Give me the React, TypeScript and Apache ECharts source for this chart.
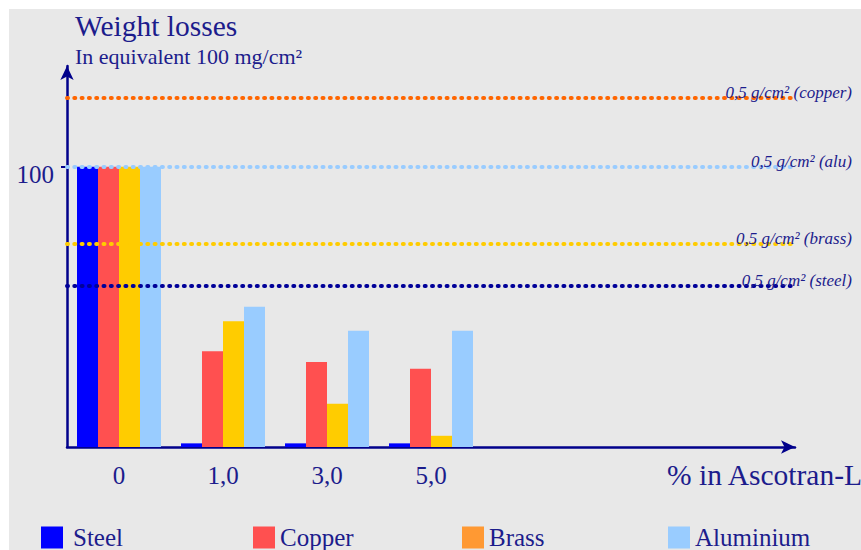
import React, { useEffect, useRef } from "react";
import * as echarts from "echarts";

const categories = ["0", "1,0", "3,0", "5,0", "", "", ""];
const steel = [100, 1.3, 1.3, 1.3];
const copper = [100, 34.2, 30.3, 27.9];
const brass = [100, 44.9, 15.4, 4.0];
const aluminium = [100, 50.1, 41.5, 41.5];
const refValues = { copper: 124.5, alu: 100, brass: 72.5, steel: 57.5 };
const refLabels = {
  copper: "0,5 g/cm² (copper)",
  alu: "0,5 g/cm² (alu)",
  brass: "0,5 g/cm² (brass)",
  steel: "0,5 g/cm² (steel)",
};
const yTicks = [100];

const NAVY = "#1c1c8c";
const AXIS = "#00008b";
const SERIF = '"Liberation Serif", "DejaVu Serif", serif';

export default function App() {
  const ref = useRef<HTMLDivElement>(null);
  useEffect(() => {
    const chart = echarts.init(ref.current!, null, { renderer: "svg" });
    const mk = (value: number, label: string, color: string) => ({
      silent: true,
      symbol: "none",
      data: [{ yAxis: value }],
      lineStyle: { color, width: 4, type: [1, 6.3], cap: "round" },
      label: {
        show: true,
        formatter: label,
        position: "insideEndTop",
        offset: [62, 8],
        fontFamily: SERIF,
        fontStyle: "italic",
        fontSize: 17,
        color: NAVY,
      },
    });
    const barBase = { type: "bar", barWidth: 21, barGap: "0%" };
    chart.setOption({
      animation: false,
      backgroundColor: "#ffffff",
      graphic: [
        {
          type: "rect",
          z: -100,
          shape: { x: 9, y: 9, width: 900, height: 600 },
          style: { fill: "#e8e8e8" },
        },
      ],
      title: [
        {
          text: "Weight losses",
          left: 75,
          top: 11,
          padding: 0,
          textStyle: { fontFamily: SERIF, fontSize: 29.5, fontWeight: "normal", color: NAVY },
        },
        {
          text: "In equivalent 100 mg/cm²",
          left: 75,
          top: 45,
          padding: 0,
          textStyle: { fontFamily: SERIF, fontSize: 22, fontWeight: "normal", color: NAVY },
        },
        {
          text: "% in Ascotran-L",
          left: 667,
          top: 460,
          padding: 0,
          textStyle: { fontFamily: SERIF, fontSize: 29.5, fontWeight: "normal", color: NAVY },
        },
      ],
      legend: [
        { name: "Steel", left: 41, color: null, pad: 5 },
        { name: "Copper", left: 253, color: null, pad: 0 },
        { name: "Brass", left: 462, color: "#ff9933", pad: 0 },
        { name: "Aluminium", left: 668, color: null, pad: 0 },
      ].map((l) => ({
        left: l.left,
        top: 525,
        padding: 0,
        selectedMode: false,
        icon: "rect",
        itemWidth: 22,
        itemHeight: 22,
        data: [l.color ? { name: l.name, itemStyle: { color: l.color } } : { name: l.name }],
        textStyle: { fontFamily: SERIF, fontSize: 25, color: NAVY, padding: [0, 0, 0, l.pad] },
      })),
      grid: { left: 67, right: 66, top: 66, bottom: 103 },
      xAxis: {
        type: "category",
        data: categories,
        axisLine: {
          lineStyle: { color: AXIS, width: 2.5 },
          symbol: ["none", "arrow"],
          symbolSize: [10, 14],
        },
        axisTick: { show: false },
        axisLabel: { fontFamily: SERIF, fontSize: 25, color: NAVY, margin: 16 },
      },
      yAxis: {
        type: "value",
        min: 0,
        max: 136,
        splitLine: { show: false },
        axisLine: {
          show: true,
          lineStyle: { color: AXIS, width: 2.5 },
          symbol: ["none", "arrow"],
          symbolSize: [10, 14],
        },
        axisTick: { show: true, customValues: yTicks, length: 6, lineStyle: { color: AXIS, width: 2 } },
        axisLabel: {
          customValues: yTicks,
          fontFamily: SERIF,
          fontSize: 25,
          color: NAVY,
          margin: 13,
          verticalAlign: "top",
          lineHeight: 16,
        },
      },
      series: [
        { ...barBase, name: "Steel", data: steel, itemStyle: { color: "#0000ff" }, markLine: mk(refValues.steel, refLabels.steel, "#000099") },
        { ...barBase, name: "Copper", data: copper, itemStyle: { color: "#ff5050" }, markLine: mk(refValues.copper, refLabels.copper, "#ff6600") },
        { ...barBase, name: "Brass", data: brass, itemStyle: { color: "#ffcc00" }, markLine: mk(refValues.brass, refLabels.brass, "#ffcc00") },
        { ...barBase, name: "Aluminium", data: aluminium, itemStyle: { color: "#99ccff" }, markLine: mk(refValues.alu, refLabels.alu, "#99ccff") },
      ],
    });
    return () => chart.dispose();
  }, []);
  return (
    <div
      ref={ref}
      style={{ position: "absolute", left: 0, top: 0, width: 861, height: 550 }}
    />
  );
}
